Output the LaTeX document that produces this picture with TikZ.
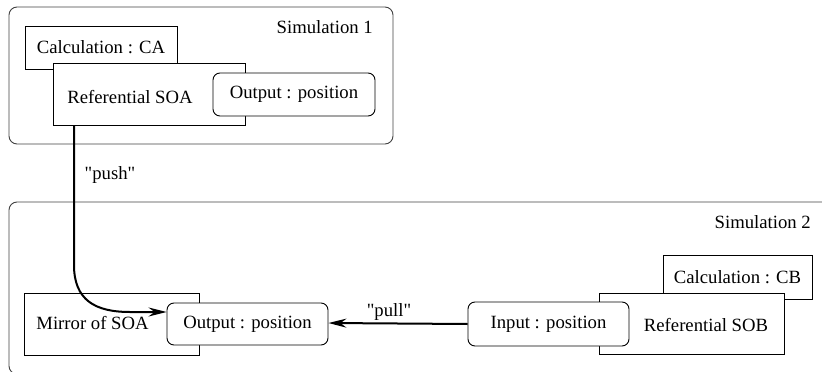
\documentclass[tikz,border=0pt]{standalone}
\usepackage{fontspec}
\setmainfont{Liberation Serif}
\newfontfamily\tnrfont{Liberation Serif}
\usetikzlibrary{arrows.meta,calc}
\begin{document}
\begin{tikzpicture}[x=1pt,y=-1pt,
  every node/.style={font=\tnrfont\fontsize{18.7}{22}\selectfont},
  simbox/.style={draw=black!75,line width=0.9pt,rounded corners=8pt},
  sqbox/.style={draw,fill=white,line width=0.9pt,inner sep=0pt},
  rbox/.style={draw,fill=white,line width=0.9pt,rounded corners=7pt,inner sep=0pt},
  txt/.style={inner sep=0pt},
  conn/.style={line width=2pt,-{Stealth[length=18pt,width=9pt,inset=6pt]}}]
\useasboundingbox (0,0) rectangle (822,372);
% Simulation 1
\draw[simbox] (9,7) rectangle (393,144);
\node[txt,anchor=east] (sim1) at (373,27) {Simulation 1};
\node[sqbox,minimum width=152pt,minimum height=43pt] (calca) at (101,47.5) {};
\node[txt] (calcatxt) at (calca.center) {Calculation : CA};
\node[sqbox,minimum width=192pt,minimum height=62pt] (soa) at (149,94) {};
\node[txt] (soatxt) at (130,97) {Referential SOA};
\node[rbox,minimum width=162pt,minimum height=43pt] (out1) at (294,94.5) {Output : position};
% Simulation 2
\draw[simbox] (9,202) rectangle (840,374);
\node[txt,anchor=east] (sim2) at (811,222) {Simulation 2};
\node[sqbox,minimum width=149pt,minimum height=44pt] (calcb) at (737.5,277) {Calculation : CB};
\node[sqbox,minimum width=185pt,minimum height=61pt] (sob) at (691.5,323.5) {};
\node[txt] (sobtxt) at (706,325) {Referential SOB};
\node[rbox,minimum width=161pt,minimum height=44pt] (inp) at (548.5,324) {Input : position};
\node[sqbox,minimum width=175pt,minimum height=62pt] (mir) at (111.5,324) {};
\node[txt] (mirtxt) at (92.5,323) {Mirror of SOA};
\node[rbox,minimum width=161pt,minimum height=42pt] (out2) at (247.5,324) {Output : position};
% connectors
\coordinate (pushtop) at (soa.south -| 74,0);
\coordinate (pushbend) at (74,265);
\draw[conn] (pushtop) -- (pushbend) .. controls (74,300) and (95,312) .. (130,312) -- ([yshift=12pt]out2.west);
\node[txt] (pushlbl) at (110,175) {\char34 push\char34};
\draw[conn] (inp.west) -- ([yshift=1pt]out2.east);
\node[txt] (pulllbl) at (389,312) {\char34 pull\char34};
\end{tikzpicture}
\end{document}
